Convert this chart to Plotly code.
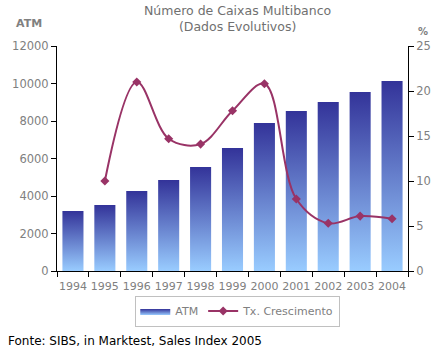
import plotly.graph_objects as go

years = ["1994", "1995", "1996", "1997", "1998", "1999", "2000", "2001", "2002", "2003", "2004"]
atm = [3200, 3520, 4270, 4850, 5550, 6560, 7900, 8530, 9010, 9550, 10130]
growth = [None, 10.0, 21.0, 14.7, 14.1, 17.8, 20.8, 8.0, 5.3, 6.1, 5.8]

FONT = "DejaVu Sans"
GRAY = "#808080"
BAR_HALF = 0.33

fig = go.Figure()

for i, v in enumerate(atm):
    fig.add_trace(go.Scatter(
        x=[i - BAR_HALF, i + BAR_HALF, i + BAR_HALF, i - BAR_HALF, i - BAR_HALF],
        y=[0, 0, v, v, 0],
        mode="lines", line=dict(width=0),
        fill="toself",
        fillcolor="#6680cc",
        fillgradient=dict(type="vertical", colorscale=[[0, "#99ccff"], [1, "#333399"]]),
        name="ATM", legendgroup="atm", showlegend=(i == 0),
        hoverinfo="skip",
    ))

fig.add_trace(go.Scatter(
    x=list(range(len(years))), y=growth, yaxis="y2",
    mode="lines+markers", name="Tx. Crescimento",
    line=dict(color="#993366", width=2, shape="spline", smoothing=1.0),
    marker=dict(symbol="diamond", size=7, color="#993366"),
))

fig.update_layout(
    width=443, height=354,
    margin=dict(l=51, r=28, t=46, b=83),
    paper_bgcolor="white", plot_bgcolor="white",
    font=dict(family=FONT, size=11, color=GRAY),
    showlegend=True,
    legend=dict(orientation="h", x=0.515, xanchor="center", y=-0.178, yanchor="middle",
                bordercolor="#c0c0c0", borderwidth=1, font=dict(size=11, color=GRAY),
                itemwidth=30, tracegroupgap=0),
    xaxis=dict(range=[-0.5, 10.5], tickmode="array", tickvals=list(range(len(years))),
               ticktext=years, ticks="", showgrid=False, zeroline=False,
               showline=True, linecolor="black", linewidth=1, ticklabelstandoff=5,
               tickfont=dict(size=11, color=GRAY),
               minor=dict(tick0=-0.5, dtick=1, ticks="outside", ticklen=5, tickcolor="black")),
    yaxis=dict(range=[0, 12000], dtick=2000, tickformat="d", ticks="outside", ticklen=5,
               tickcolor="black", showline=True, linecolor="black", linewidth=1,
               showgrid=False, zeroline=False, tickfont=dict(size=11.5, color=GRAY)),
    yaxis2=dict(range=[0, 25], dtick=5, overlaying="y", side="right", ticks="outside",
                ticklen=5, tickcolor="black", showline=True, linecolor="black", linewidth=1,
                showgrid=False, zeroline=False, tickfont=dict(size=11.5, color=GRAY)),
    annotations=[
        dict(text="Número de Caixas Multibanco<br>(Dados Evolutivos)", xref="paper", yref="paper",
             x=0.515, y=1, yshift=45, xanchor="center", yanchor="top", showarrow=False,
             font=dict(size=12.5, color="#707070")),
        dict(text="<b>ATM</b>", xref="paper", yref="paper", x=0, xshift=-43, y=1, yshift=23,
             xanchor="left", yanchor="middle", showarrow=False, font=dict(size=11, color=GRAY)),
        dict(text="<b>%</b>", xref="paper", yref="paper", x=1, xshift=15, y=1, yshift=15,
             xanchor="center", yanchor="middle", showarrow=False, font=dict(size=10, color=GRAY)),
        dict(text="Fonte: SIBS, in Marktest, Sales Index 2005", xref="paper", yref="paper",
             x=0, xshift=-51, y=0, yshift=-70, xanchor="left", yanchor="middle", showarrow=False,
             font=dict(size=12, color="black")),
    ],
)

fig.write_html("out.html")
